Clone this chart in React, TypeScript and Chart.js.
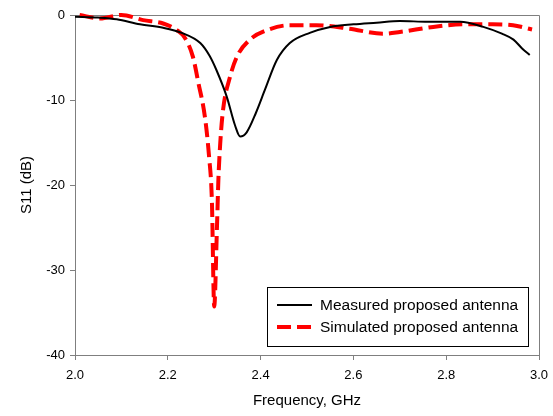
import React, { useEffect, useRef } from "react";
import { Chart, registerables } from "chart.js";

Chart.register(...registerables);

const measuredFreq = [2.0, 2.05, 2.09, 2.14, 2.19, 2.23, 2.27, 2.29, 2.305, 2.327, 2.345, 2.356, 2.37, 2.39, 2.41, 2.435, 2.463, 2.506, 2.55, 2.6, 2.65, 2.7, 2.76, 2.83, 2.88, 2.92, 2.945, 2.963, 2.98];
const measuredS11 = [-0.2, -0.3, -0.5, -1.1, -1.5, -2.1, -3.3, -4.8, -6.5, -9.6, -13.0, -14.3, -13.8, -11.5, -8.7, -5.3, -3.3, -2.1, -1.4, -1.1, -0.9, -0.7, -0.8, -0.8, -1.4, -2.2, -2.9, -3.9, -4.7];

const simulatedFreq = [2.01, 2.054, 2.1, 2.147, 2.19, 2.22, 2.237, 2.254, 2.266, 2.28, 2.289, 2.295, 2.3, 2.306, 2.309, 2.313, 2.319, 2.334, 2.349, 2.377, 2.413, 2.463, 2.52, 2.59, 2.664, 2.7, 2.772, 2.836, 2.9, 2.944, 2.985];
const simulatedS11 = [0, -0.4, 0, -0.6, -1.0, -1.8, -2.7, -4.9, -8.0, -12.0, -16.7, -21.8, -34.3, -24.9, -19.4, -15.1, -11.2, -7.3, -4.9, -2.9, -1.8, -1.2, -1.2, -1.6, -2.2, -2.0, -1.4, -1.1, -1.1, -1.2, -1.7];

const xTicks = [2.0, 2.2, 2.4, 2.6, 2.8, 3.0];
const yTicks = [-40, -30, -20, -10, 0];
const seriesLabels = ["Measured proposed antenna", "Simulated proposed antenna"];
const xTitle = "Frequency, GHz";
const yTitle = "S11 (dB)";

const AXIS_GRAY = "#7f7f7f";
const FONT = "'Liberation Sans', Arial, sans-serif";

const framePlugin = {
  id: "frame",
  beforeDatasetsDraw(chart: any) {
    const { ctx, chartArea } = chart;
    ctx.save();
    ctx.strokeStyle = AXIS_GRAY;
    ctx.lineWidth = 1;
    ctx.beginPath();
    ctx.moveTo(Math.round(chartArea.left), Math.round(chartArea.top) + 0.5);
    ctx.lineTo(Math.round(chartArea.right) + 0.5, Math.round(chartArea.top) + 0.5);
    ctx.lineTo(Math.round(chartArea.right) + 0.5, Math.round(chartArea.bottom));
    ctx.stroke();
    ctx.restore();
  },
};

const legendPlugin = {
  id: "boxLegend",
  afterDraw(chart: any) {
    const { ctx, chartArea } = chart;
    const w = 261;
    const h = 59;
    const right = chartArea.right - 11;
    const bottom = chartArea.bottom - 9;
    const left = right - w;
    const top = bottom - h;
    ctx.save();
    ctx.fillStyle = "#ffffff";
    ctx.fillRect(left, top, w, h);
    ctx.strokeStyle = "#000000";
    ctx.lineWidth = 1;
    ctx.strokeRect(Math.round(left) + 0.5, Math.round(top) + 0.5, w, h);
    chart.data.datasets.forEach((ds: any, i: number) => {
      const y = top + 18 + i * 22;
      ctx.beginPath();
      ctx.strokeStyle = ds.borderColor;
      ctx.lineWidth = ds.borderWidth;
      ctx.setLineDash(ds.borderDash || []);
      ctx.moveTo(left + 10, y);
      ctx.lineTo(left + 45, y);
      ctx.stroke();
      ctx.setLineDash([]);
      ctx.fillStyle = "#000000";
      ctx.font = `15.5px ${FONT}`;
      ctx.textBaseline = "middle";
      ctx.textAlign = "left";
      ctx.fillText(ds.label, left + 53, y + 1);
    });
    ctx.restore();
  },
};

export default function App() {
  const canvasRef = useRef<HTMLCanvasElement | null>(null);

  useEffect(() => {
    if (!canvasRef.current) return;
    const chart = new Chart(canvasRef.current, {
      type: "line",
      data: {
        datasets: [
          {
            label: seriesLabels[0],
            data: measuredFreq.map((f, i) => ({ x: f, y: measuredS11[i] })),
            borderColor: "#000000",
            borderWidth: 2,
            pointRadius: 0,
            cubicInterpolationMode: "monotone",
            fill: false,
          },
          {
            label: seriesLabels[1],
            data: simulatedFreq.map((f, i) => ({ x: f, y: simulatedS11[i] })),
            borderColor: "#ff0000",
            borderWidth: 4,
            borderDash: [14, 6],
            pointRadius: 0,
            cubicInterpolationMode: "monotone",
            fill: false,
            clip: { left: 0, top: 5, right: 0, bottom: 0 },
          },
        ],
      },
      options: {
        animation: false,
        responsive: false,
        maintainAspectRatio: false,
        layout: { padding: { top: 15, right: 14, left: 0, bottom: 0 } },
        plugins: { legend: { display: false }, tooltip: { enabled: false } },
        scales: {
          x: {
            type: "linear",
            min: 2,
            max: 3,
            afterBuildTicks: (scale: any) => {
              scale.ticks = xTicks.map((v) => ({ value: v }));
            },
            afterFit: (scale: any) => {
              scale.height = 61;
              scale.paddingLeft = 0;
              scale.paddingRight = 0;
            },
            ticks: {
              color: "#000000",
              font: { family: FONT, size: 13 },
              padding: 8,
              maxRotation: 0,
              callback: (v: any) => Number(v).toFixed(1),
            },
            grid: {
              display: true,
              drawOnChartArea: false,
              drawTicks: true,
              tickLength: 5,
              color: AXIS_GRAY,
            },
            border: { display: true, color: AXIS_GRAY, width: 1 },
            title: {
              display: true,
              text: xTitle,
              color: "#000000",
              font: { family: FONT, size: 15 },
              padding: { top: 0, bottom: 6 },
            },
          },
          y: {
            type: "linear",
            min: -40,
            max: 0,
            afterBuildTicks: (scale: any) => {
              scale.ticks = yTicks.map((v) => ({ value: v }));
            },
            afterFit: (scale: any) => {
              scale.width = 75;
              scale.paddingTop = 0;
              scale.paddingBottom = 0;
            },
            ticks: {
              color: "#000000",
              font: { family: FONT, size: 13 },
              padding: 5,
              callback: (v: any) => String(v),
            },
            grid: {
              display: true,
              drawOnChartArea: false,
              drawTicks: true,
              tickLength: 5,
              color: AXIS_GRAY,
            },
            border: { display: true, color: AXIS_GRAY, width: 1 },
            title: {
              display: true,
              text: yTitle,
              color: "#000000",
              font: { family: FONT, size: 15 },
              padding: { top: 18, bottom: 0 },
            },
          },
        },
      },
      plugins: [framePlugin, legendPlugin],
    } as any);
    return () => chart.destroy();
  }, []);

  return (
    <div style={{ position: "absolute", left: 0, top: 0, width: 553, height: 416, background: "#ffffff" }}>
      <canvas ref={canvasRef} width={553} height={416} style={{ display: "block" }} />
    </div>
  );
}
